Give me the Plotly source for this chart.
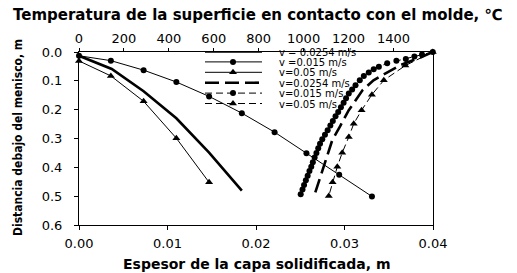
import plotly.graph_objects as go

# ---- data ----
# Solidified shell thickness (m, bottom axis) vs distance below meniscus (m)
shell_v0254_x = [0.0, 0.0037, 0.0073, 0.0110, 0.0147, 0.0184]
shell_v0254_y = [0.013, 0.059, 0.136, 0.230, 0.349, 0.481]
shell_v015_x = [0.0, 0.0036, 0.0073, 0.0110, 0.0147, 0.0184, 0.0221, 0.0257, 0.0294, 0.0331]
shell_v015_y = [0.013, 0.030, 0.063, 0.104, 0.154, 0.212, 0.278, 0.351, 0.426, 0.501]
shell_v05_x = [0.0, 0.0036, 0.0073, 0.0110, 0.0147]
shell_v05_y = [0.031, 0.083, 0.171, 0.299, 0.452]

# Surface temperature (degC, top axis) vs distance below meniscus (m)
temp_v0254_t = [1575, 1520, 1431, 1364, 1311, 1262, 1201, 1164, 1127, 1098, 1068, 1044]
temp_v0254_y = [0.0, 0.019, 0.045, 0.073, 0.098, 0.133, 0.202, 0.255, 0.307, 0.377, 0.447, 0.506]
temp_v015_t = [1575, 1527, 1493, 1455, 1413, 1372, 1335, 1312, 1290, 1268, 1250, 1231, 1216, 1201,
               1189, 1178, 1166, 1154, 1142, 1130, 1119, 1107, 1095, 1083,
               1073, 1065, 1057, 1049, 1041, 1034, 1026, 1018, 1010, 1002, 995, 987]
temp_v015_y = [0.0, 0.009, 0.016, 0.024, 0.030, 0.039, 0.051, 0.060, 0.071, 0.083, 0.098, 0.115, 0.130, 0.144,
               0.160, 0.176, 0.192, 0.208, 0.223, 0.239, 0.255, 0.271, 0.287, 0.303,
               0.318, 0.334, 0.350, 0.366, 0.382, 0.398, 0.413, 0.429, 0.445, 0.461, 0.477, 0.493]
temp_v05_t = [1575, 1453, 1357, 1304, 1258, 1223, 1201, 1172, 1150, 1129, 1112]
temp_v05_y = [0.0, 0.047, 0.098, 0.148, 0.202, 0.249, 0.295, 0.349, 0.398, 0.452, 0.499]

legend_labels = ["v = 0.0254 m/s", "v =0.015 m/s", "v=0.05 m/s",
                 "v=0.0254 m/s", "v=0.015 m/s", "v=0.05 m/s"]
bottom_ticks = [0.0, 0.01, 0.02, 0.03, 0.04]
top_ticks = [0, 200, 400, 600, 800, 1000, 1200, 1400]
y_ticks = [0.0, 0.1, 0.2, 0.3, 0.4, 0.5, 0.6]

# ---- layout geometry (pixels) ----
W, H = 517, 273
L, R, T, B = 79, 433, 52, 225
FONT = "DejaVu Sans"


def px(x):
    return (x - L) / (R - L)


def py(y):
    return (B - y) / (B - T)


thin = 1
thick = 2.6
dash_thick = "14px,6px"
dash_thin = "7px,4px"

styles = [
    dict(mode="lines", line=dict(color="black", width=thick)),
    dict(mode="lines+markers", line=dict(color="black", width=thin),
         marker=dict(symbol="circle", size=6, color="black")),
    dict(mode="lines+markers", line=dict(color="black", width=thin),
         marker=dict(symbol="triangle-up", size=7, color="black")),
    dict(mode="lines", line=dict(color="black", width=thick, dash=dash_thick)),
    dict(mode="lines+markers", line=dict(color="black", width=thin, dash=dash_thin),
         marker=dict(symbol="circle", size=6, color="black")),
    dict(mode="lines+markers", line=dict(color="black", width=thin, dash=dash_thin),
         marker=dict(symbol="triangle-up", size=7, color="black")),
]

series = [
    (shell_v0254_x, shell_v0254_y, "x"),
    (shell_v015_x, shell_v015_y, "x"),
    (shell_v05_x, shell_v05_y, "x"),
    (temp_v0254_t, temp_v0254_y, "x2"),
    (temp_v015_t, temp_v015_y, "x2"),
    (temp_v05_t, temp_v05_y, "x2"),
]

fig = go.Figure()
for (xs, ys, xa), st in zip(series, styles):
    fig.add_trace(go.Scatter(x=xs, y=ys, xaxis=xa, yaxis="y", showlegend=False,
                             cliponaxis=False, **st))

# ---- hand-made legend (pixel overlay axes) ----
leg_x0, leg_x1, leg_xm, leg_text_x = 205, 262, 233, 277
leg_rows = [51.5, 61.9, 72.3, 82.7, 93.1, 103.5]
annotations = []
for lab, st, ry in zip(legend_labels, styles, leg_rows):
    fig.add_trace(go.Scatter(x=[leg_x0, leg_x1], y=[ry, ry], mode="lines", line=st["line"],
                             xaxis="x3", yaxis="y3", showlegend=False, cliponaxis=False,
                             hoverinfo="skip"))
    if "marker" in st:
        fig.add_trace(go.Scatter(x=[leg_xm], y=[ry], mode="markers", marker=st["marker"],
                                 xaxis="x3", yaxis="y3", showlegend=False, cliponaxis=False,
                                 hoverinfo="skip"))
    annotations.append(dict(text=lab, xref="paper", yref="paper", x=px(leg_text_x), y=py(ry + 0.5),
                            xanchor="left", yanchor="middle", showarrow=False,
                            font=dict(family=FONT, size=10, color="black")))

# ---- titles ----
annotations.append(dict(text="<b>Temperatura de la superficie en contacto con el molde, ℃</b>",
                        xref="paper", yref="paper", x=px(257.5), y=py(15), xanchor="center",
                        yanchor="middle", showarrow=False,
                        font=dict(family=FONT, size=15, color="black")))
annotations.append(dict(text="<b>Espesor de la capa solidificada, m</b>",
                        xref="paper", yref="paper", x=px(256), y=py(263.5), xanchor="center",
                        yanchor="middle", showarrow=False,
                        font=dict(family=FONT, size=14, color="black")))
annotations.append(dict(text="<b>Distancia debajo del menisco, m</b>",
                        xref="paper", yref="paper", x=px(18), y=py(138), xanchor="center",
                        yanchor="middle", showarrow=False, textangle=-90,
                        font=dict(family="Liberation Sans Narrow, DejaVu Sans Condensed, sans-serif",
                                  size=12, color="black")))

tickfont = dict(family=FONT, size=13, color="black")
axis_common = dict(showgrid=False, zeroline=False, showline=True, linecolor="black", linewidth=1,
                   ticks="outside", tickcolor="black", tickwidth=1, tickfont=tickfont)

fig.update_layout(
    width=W, height=H,
    margin=dict(l=L, r=W - R, t=T, b=H - B, pad=0),
    paper_bgcolor="white", plot_bgcolor="white",
    showlegend=False,
    annotations=annotations,
    xaxis=dict(domain=[0, 1], range=[0, 0.04], tickvals=bottom_ticks, tickformat=".2f",
               anchor="y", ticklen=4, ticklabelstandoff=2, **axis_common),
    xaxis2=dict(overlaying="x", side="top", range=[0, 1576], tickvals=top_ticks,
                anchor="y", ticklen=3, ticklabelstandoff=0, **axis_common),
    yaxis=dict(domain=[0, 1], range=[0.6, 0.0], tickvals=y_ticks, tickformat=".1f",
               anchor="x", mirror=True, ticklen=4, ticklabelstandoff=9, **axis_common),
    xaxis3=dict(overlaying="x", range=[L, R], visible=False, anchor="y3"),
    yaxis3=dict(overlaying="y", range=[B, T], visible=False, anchor="x3"),
)

fig.write_html("out.html")
